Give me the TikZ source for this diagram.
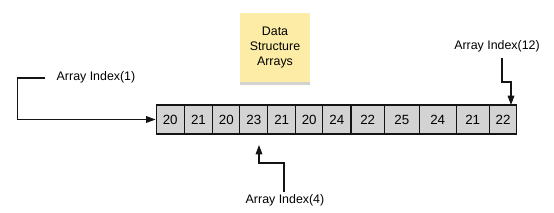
\documentclass[tikz,border=0pt]{standalone}
\usepackage{fontspec}
\setmainfont{Liberation Sans}
\usepackage{xcolor}
\usetikzlibrary{positioning, arrows.meta, calc, shadows}
\definecolor{cellgray}{RGB}{211,211,211}
\definecolor{notefill}{RGB}{253,236,165}
\definecolor{darkline}{RGB}{20,20,20}

\begin{document}
\begin{tikzpicture}[x=0.75pt, y=-0.75pt,
  cell/.style={rectangle, draw=darkline, fill=cellgray, line width=0.8pt,
               minimum width=#1*0.75pt, minimum height=29*0.75pt,
               inner sep=0pt, font=\fontsize{10}{11}\selectfont},
  notebox/.style={rectangle, fill=notefill, minimum width=70*0.75pt,
                  minimum height=69*0.75pt, align=center,
                  font=\fontsize{9.3}{11.3}\selectfont,
                  drop shadow={shadow xshift=0pt, shadow yshift=-2.5pt,
                               opacity=0.25, fill=black!70}},
  idxlbl/.style={font=\fontsize{9.3}{10}\selectfont, inner sep=2pt},
  arr/.style={-{Triangle[length=7pt, width=5pt]}, line width=0.8pt, draw=darkline}
]
\useasboundingbox (0,0) rectangle (554,212);

% title note
\node[notebox] (note) at (275,47.5) {Data\\Structure\\Arrays};

% array cells
\node[cell=28.3] (c1)  at (170.2,119.5) {20};
\node[cell=28.4] (c2)  at (198.5,119.5) {21};
\node[cell=27.3] (c3)  at (226.3,119.5) {20};
\node[cell=27.7] (c4)  at (253.8,119.5) {23};
\node[cell=28]   (c5)  at (281.7,119.5) {21};
\node[cell=27]   (c6)  at (309.2,119.5) {20};
\node[cell=28.3] (c7)  at (336.8,119.5) {24};
\node[cell=33.3] (c8)  at (367.7,119.5) {22};
\node[cell=35]   (c9)  at (401.8,119.5) {25};
\node[cell=36.7] (c10) at (437.7,119.5) {24};
\node[cell=33.3] (c11) at (472.7,119.5) {21};
\node[cell=27.4] (c12) at (503,119.5)   {22};

% index labels
\node[idxlbl] (idx1)  at (96,77)    {Array Index(1)};
\node[idxlbl] (idx4)  at (285,200.5) {Array Index(4)};
\node[idxlbl] (idx12) at (497,46.5) {Array Index(12)};

% bend points
\coordinate (s1)  at (45,78);
\coordinate (b1)  at (17.5,78);
\coordinate (k4)  at (284,163);
\coordinate (t4)  at (259,145);
\coordinate (s12) at (502,58);
\coordinate (k12) at (502,82);
\coordinate (t12) at (511,105);

\draw[arr] (s1) -- (b1) |- (c1.west);
\draw[arr] (idx4.north -| k4) -- (k4) -| (t4);
\draw[arr] (s12) -- (k12) -| (t12);

\end{tikzpicture}
\end{document}
